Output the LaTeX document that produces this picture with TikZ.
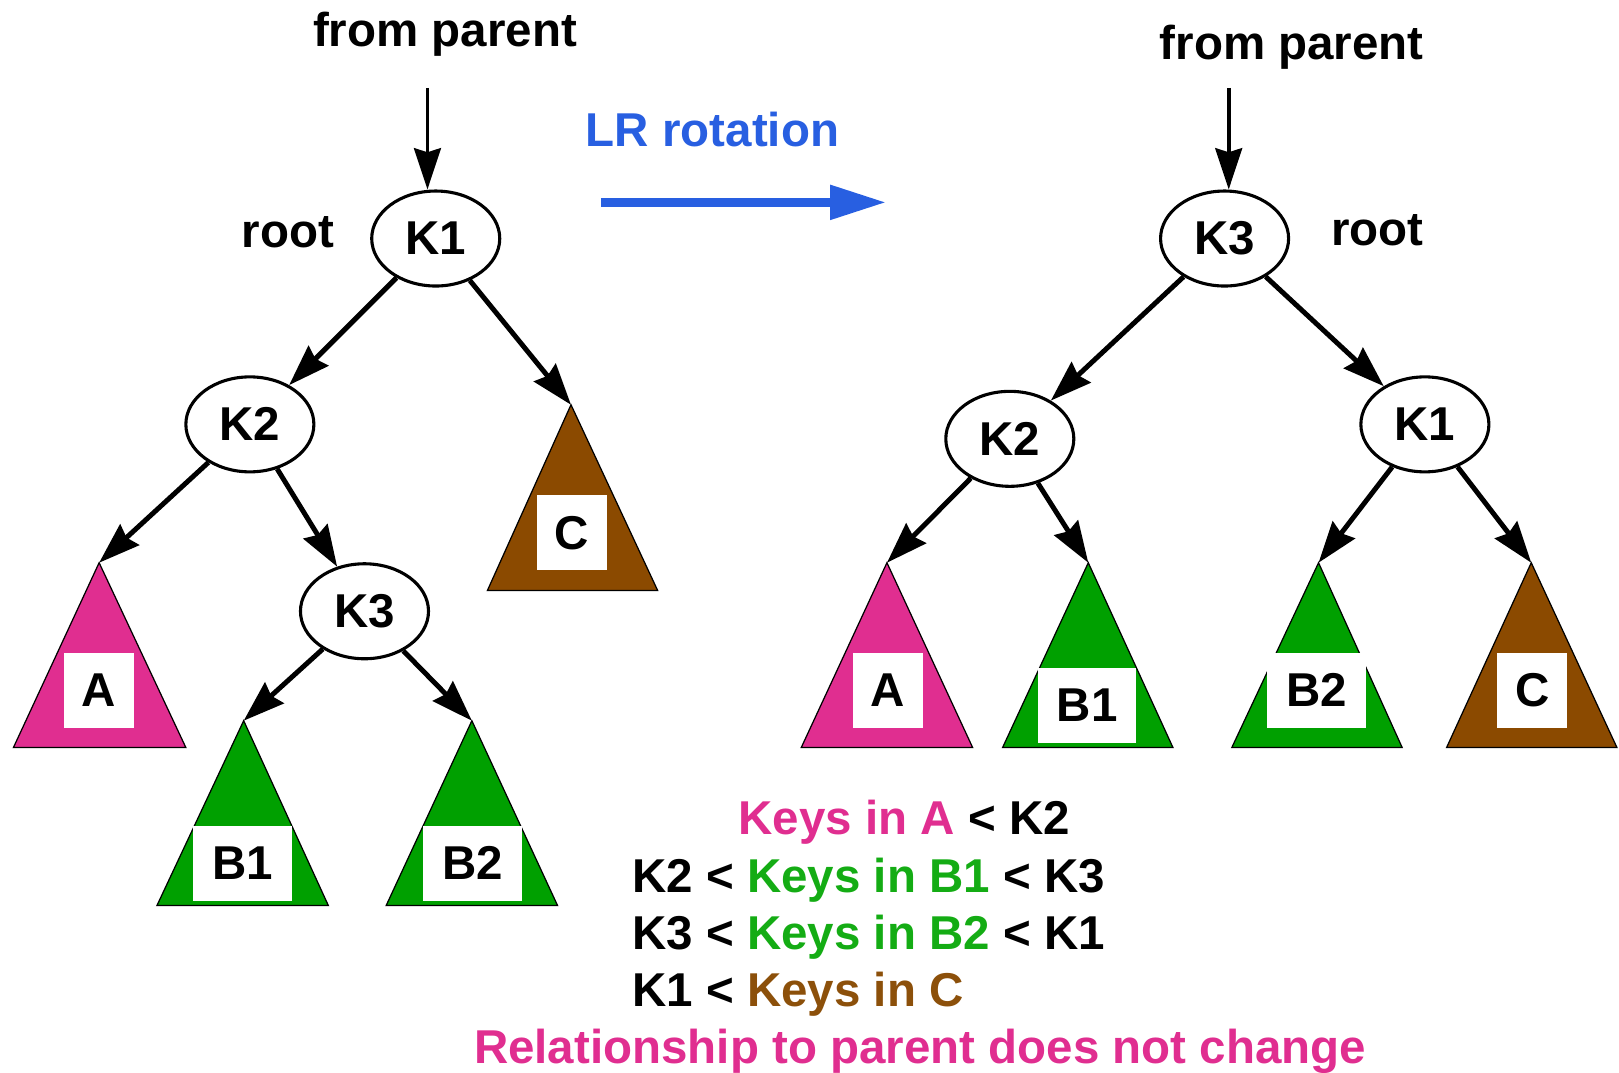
\documentclass[tikz,border=0pt]{standalone}
\usepackage{fontspec}
\setmainfont{Liberation Sans}
\usetikzlibrary{arrows.meta,shapes.geometric}
\definecolor{treepink}{RGB}{224,46,144}
\definecolor{treegreen}{RGB}{0,160,0}
\definecolor{treebrown}{RGB}{139,74,0}
\definecolor{textgreen}{RGB}{20,172,20}
\definecolor{textbrown}{RGB}{140,80,10}
\definecolor{rotblue}{RGB}{40,95,225}
\newcommand\lab{\fontsize{23}{27}\selectfont\bfseries}
\tikzset{
  key/.style={draw, ellipse, line width=1.5pt, minimum width=62pt, minimum height=46pt, inner sep=0pt, font=\lab},
  link/.style={line width=2.4pt, -{Stealth[length=20pt,width=13.5pt,inset=2pt]}},
  feed/.style={line width=1.8pt, -{Stealth[length=20pt,width=13pt,inset=2pt]}},
  subtri/.style={draw=black, line width=0.6pt, line join=miter},
  tag/.style={fill=white, inner sep=0pt, minimum height=36.5pt, font=\lab},
  word/.style={inner sep=0pt, font=\lab},
}
\begin{document}
\begin{tikzpicture}[x=0.5pt, y=-0.5pt]
\useasboundingbox (0,0) rectangle (1568,1039);

% ---------- tree before the rotation ----------
\node[word, anchor=base] (fpL) at (431,45) {from parent};
\coordinate (fpLs) at (414,85);
\node[key] (lK1) at (422,231) {K1};
\node[word, anchor=base] (rootL) at (279,240) {root};
\node[key] (lK2) at (242,411) {K2};
\node[key] (lK3) at (353,592) {K3};

% subtrees
\coordinate (lA) at (96,545);
\fill[treepink] (lA) -- (13,724) -- (180,724) -- cycle;
\draw[subtri] (lA) -- (13,724) -- (180,724) -- cycle;
\node[tag, minimum width=34pt] (lAt) at (96,668.5) {A};

\coordinate (lB1) at (236,698);
\fill[treegreen] (lB1) -- (152,877) -- (318,877) -- cycle;
\draw[subtri] (lB1) -- (152,877) -- (318,877) -- cycle;
\node[tag, minimum width=48pt] (lB1t) at (235,836) {B1};

\coordinate (lB2) at (457,698);
\fill[treegreen] (lB2) -- (374,877) -- (540,877) -- cycle;
\draw[subtri] (lB2) -- (374,877) -- (540,877) -- cycle;
\node[tag, minimum width=48pt] (lB2t) at (458,836) {B2};

\coordinate (lC) at (553,392);
\fill[treebrown] (lC) -- (472,572) -- (637,572) -- cycle;
\draw[subtri] (lC) -- (472,572) -- (637,572) -- cycle;
\node[tag, minimum width=34pt] (lCt) at (554,516) {C};

\draw[feed] (fpLs) -- (fpLs |- lK1.north);
\draw[link] (lK1) -- (lK2);
\draw[link] (lK1) -- (lC);
\draw[link] (lK2) -- (lA);
\draw[link] (lK2) -- (lK3);
\draw[link] (lK3) -- (lB1);
\draw[link] (lK3) -- (lB2);

% ---------- the rotation ----------
\node[word, anchor=base, text=rotblue] (rotlabel) at (690,142) {LR rotation};
\coordinate (rotS) at (582,196);
\coordinate (rotE) at (858,196);
\draw[rotblue, line width=4pt, -{Triangle[length=27pt,width=16pt]}] (rotS) -- (rotE);

% ---------- tree after the rotation ----------
\node[word, anchor=base] (fpR) at (1251,58) {from parent};
\coordinate (fpRs) at (1190,85);
\node[key] (rK3) at (1186,231) {K3};
\node[word, anchor=base] (rootR) at (1334,238) {root};
\node[key] (rK2) at (978,425) {K2};
\node[key] (rK1) at (1380,411) {K1};

\coordinate (rA) at (859,545);
\fill[treepink] (rA) -- (776,724) -- (942,724) -- cycle;
\draw[subtri] (rA) -- (776,724) -- (942,724) -- cycle;
\node[tag, minimum width=34pt] (rAt) at (860,668.5) {A};

\coordinate (rB1) at (1054,545);
\fill[treegreen] (rB1) -- (971,724) -- (1136,724) -- cycle;
\draw[subtri] (rB1) -- (971,724) -- (1136,724) -- cycle;
\node[tag, minimum width=47.5pt] (rB1t) at (1053,683) {B1};

\coordinate (rB2) at (1277,545);
\fill[treegreen] (rB2) -- (1193,724) -- (1358,724) -- cycle;
\draw[subtri] (rB2) -- (1193,724) -- (1358,724) -- cycle;
\node[tag, minimum width=47.5pt] (rB2t) at (1275,668.5) {B2};

\coordinate (rC) at (1483,545);
\fill[treebrown] (rC) -- (1401,724) -- (1566,724) -- cycle;
\draw[subtri] (rC) -- (1401,724) -- (1566,724) -- cycle;
\node[tag, minimum width=34pt] (rCt) at (1484,668.5) {C};

\draw[feed] (fpRs) -- (fpRs |- rK3.north);
\draw[link] (rK3) -- (rK2);
\draw[link] (rK3) -- (rK1);
\draw[link] (rK2) -- (rA);
\draw[link] (rK2) -- (rB1);
\draw[link] (rK1) -- (rB2);
\draw[link] (rK1) -- (rC);

% ---------- key ordering ----------
\node[word, anchor=base west] (ord1) at (715,808) {\textcolor{treepink}{Keys in A} < K2};
\node[word, anchor=base west] (ord2) at (612,864) {K2 < \textcolor{textgreen}{Keys in B1} < K3};
\node[word, anchor=base west] (ord3) at (612,920) {K3 < \textcolor{textgreen}{Keys in B2} < K1};
\node[word, anchor=base west] (ord4) at (612,975) {K1 < \textcolor{textbrown}{Keys in C}};
\node[word, anchor=base, text=treepink] (note) at (891,1030) {Relationship to parent does not change};
\end{tikzpicture}
\end{document}
